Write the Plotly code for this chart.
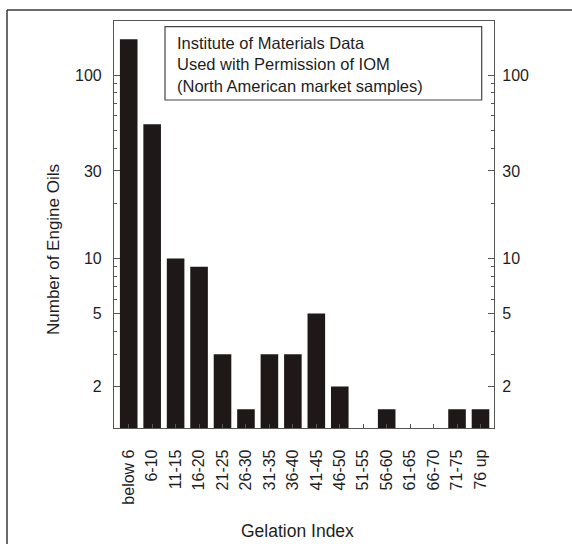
import plotly.graph_objects as go

# Gelation index bins and number of engine oils in each bin
categories = ["below 6", "6-10", "11-15", "16-20", "21-25", "26-30", "31-35", "36-40",
              "41-45", "46-50", "51-55", "56-60", "61-65", "66-70", "71-75", "76 up"]
counts = [157, 54, 10, 9, 3, 1.5, 3, 3, 5, 2, None, 1.5, None, None, 1.5, 1.5]

y_tickvals = [2, 5, 10, 30, 100]
y_minor = [3, 4, 6, 7, 8, 9, 20, 40, 50, 60, 70, 80, 90, 200]

note_lines = ["Institute of Materials Data",
              "Used with Permission of IOM",
              "(North American market samples)"]

FONT = "Liberation Sans, Arial, sans-serif"
AXIS_COLOR = "#555555"
TEXT_COLOR = "#1e1e1e"

W, H = 572, 544
L, R, T, B = 114, 78, 21, 116
pw, ph = W - L - R, H - T - B


def px(x):
    return (x - L) / pw


def py(y):
    return (H - B - y) / ph


xs = list(range(len(categories)))

fig = go.Figure()
fig.add_trace(go.Bar(x=xs, y=counts, width=0.75,
                     marker=dict(color="#1f1818", line=dict(width=0)),
                     hoverinfo="x+y", showlegend=False))
# invisible trace so the right-hand axis is drawn
fig.add_trace(go.Scatter(x=[xs[0]], y=[10], yaxis="y2", mode="markers",
                         marker=dict(opacity=0), hoverinfo="skip", showlegend=False))

yrange = [0.074, 2.296]
yaxis_common = dict(
    type="log", range=yrange, tickvals=y_tickvals, ticktext=[str(v) for v in y_tickvals],
    ticks="inside", ticklen=6, tickcolor=AXIS_COLOR, tickwidth=1,
    minor=dict(ticks="inside", ticklen=3, tickcolor=AXIS_COLOR, tickvals=y_minor, showgrid=False),
    showline=True, linecolor=AXIS_COLOR, linewidth=1.2, showgrid=False, zeroline=False,
    tickfont=dict(family=FONT, size=16, color=TEXT_COLOR),
)

fig.update_layout(
    width=W, height=H,
    margin=dict(l=L, r=R, t=T, b=B),
    paper_bgcolor="white", plot_bgcolor="white",
    bargap=0.25,
    xaxis=dict(
        range=[-0.627, 15.576], tickmode="array", tickvals=xs, ticktext=categories,
        tickangle=-90, ticks="inside", ticklen=4, tickcolor=AXIS_COLOR,
        showline=True, linecolor=AXIS_COLOR, linewidth=1.2, mirror=True,
        showgrid=False, zeroline=False, ticklabelstandoff=14,
        tickfont=dict(family=FONT, size=16, color=TEXT_COLOR),
    ),
    yaxis=dict(**yaxis_common, side="left", ticklabelstandoff=8),
    yaxis2=dict(**yaxis_common, side="right", overlaying="y", ticklabelstandoff=4),
)

# note box
fig.add_shape(type="rect", xref="paper", yref="paper",
              x0=px(165), x1=px(481.7), y0=py(100), y1=py(26.7),
              line=dict(color="#444444", width=1.2), fillcolor="white", layer="above")
fig.add_annotation(xref="paper", yref="paper", x=px(175), y=py(64.3),
                   xanchor="left", yanchor="middle", align="left", showarrow=False,
                   text="<br>".join(note_lines),
                   font=dict(family=FONT, size=16.5, color=TEXT_COLOR))

# axis titles
fig.add_annotation(xref="paper", yref="paper", x=px(53), y=py(250),
                   xanchor="center", yanchor="middle", textangle=-90, showarrow=False,
                   text="Number of Engine Oils",
                   font=dict(family=FONT, size=17, color=TEXT_COLOR))
fig.add_annotation(xref="paper", yref="paper", x=px(297), y=py(531),
                   xanchor="center", yanchor="middle", showarrow=False,
                   text="Gelation Index",
                   font=dict(family=FONT, size=17.5, color=TEXT_COLOR))

# outer frame around the figure
fig.add_shape(type="line", xref="paper", yref="paper",
              x0=px(7), x1=px(7), y0=py(10), y1=py(H + 5),
              line=dict(color="#3a3a3a", width=1.5))
fig.add_shape(type="line", xref="paper", yref="paper",
              x0=px(7), x1=px(W + 5), y0=py(10), y1=py(10),
              line=dict(color="#3a3a3a", width=1.5))

fig.write_html("out.html")
